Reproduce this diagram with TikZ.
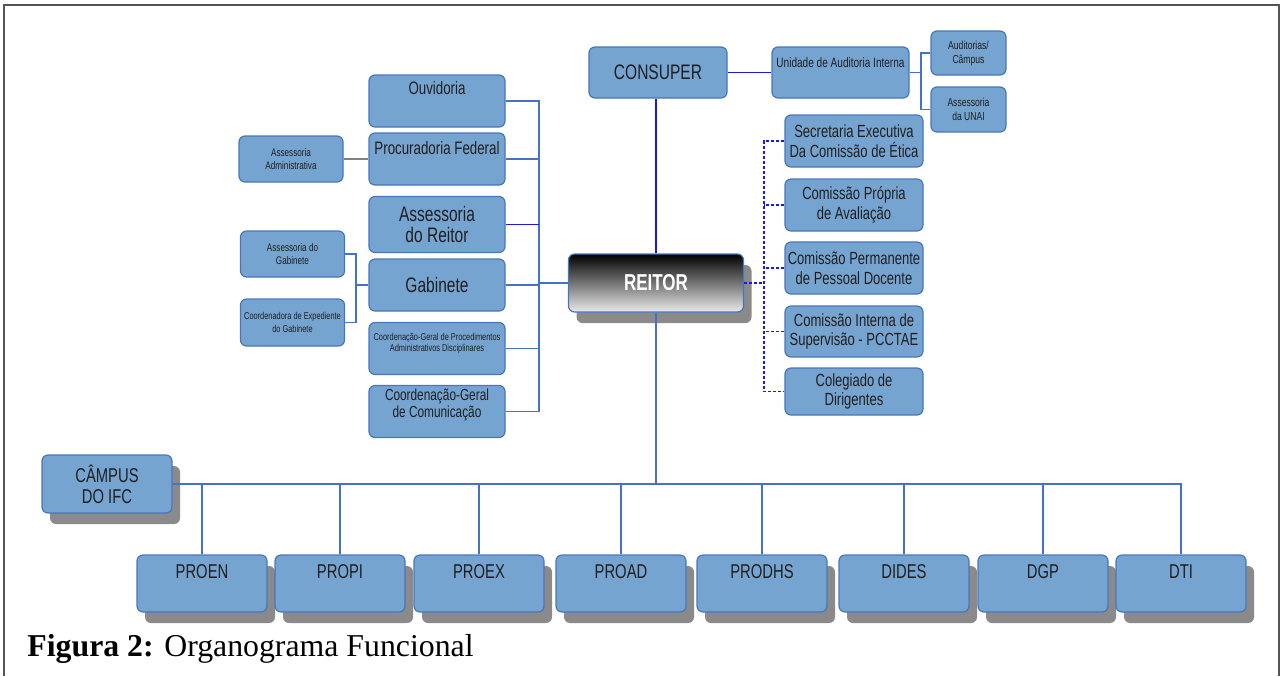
\documentclass[tikz,border=0pt]{standalone}
\usepackage{fontspec}
\setmainfont{Liberation Serif}
\newfontfamily\narrowfont[FakeStretch=0.74]{Liberation Sans}
\usepackage{xcolor}
\usepackage{tikz}
\usetikzlibrary{positioning,shadows}

\definecolor{boxfill}{RGB}{118,164,209}
\definecolor{boxline}{RGB}{72,118,190}
\definecolor{linkblue}{RGB}{68,114,196}
\definecolor{deepblue}{RGB}{25,25,225}
\definecolor{shadowgray}{RGB}{138,138,138}
\definecolor{framegray}{RGB}{85,85,85}

\newcommand{\setfs}[2]{\fontsize{#1}{#2}\selectfont}

\begin{document}
\begin{tikzpicture}[
    x=0.5pt, y=-0.5pt,
    unit/.style={rectangle, rounded corners=3pt, draw=boxline, fill=boxfill, line width=0.6pt, inner sep=1pt, align=center, text=black!88},
    leftunit/.style={unit, minimum width=68pt, minimum height=26pt},
    smallunit/.style={unit, minimum width=52pt, minimum height=23pt, font=\narrowfont\setfs{5.5}{6.5}},
    rightunit/.style={unit, minimum width=69pt, minimum height=26pt, font=\narrowfont\setfs{8.8}{9.8}},
    prounit/.style={unit, shadowed, minimum width=65pt, minimum height=28.5pt, lift=11.7pt, font=\narrowfont\setfs{10}{11}},
    shadowed/.style={drop shadow={shadow xshift=4pt, shadow yshift=-5.5pt, fill=shadowgray, opacity=1}},
    lift/.style={text depth=#1},
    link/.style={draw=linkblue, line width=0.7pt},
    dashlink/.style={draw=deepblue, line width=0.6pt, dash pattern=on 1.5pt off 1pt}
]
    \useasboundingbox (0,0) rectangle (1281,676);

    % Reitoria
    \node[unit, shadowed, minimum width=87.5pt, minimum height=29pt, top color=black, bottom color=white!92!black,
          font=\narrowfont\bfseries\setfs{11.5}{12}, text=white] (reitor) at (656,283) {REITOR};

    % Conselho superior e auditoria
    \node[unit, minimum width=69pt, minimum height=25.5pt, font=\narrowfont\setfs{10.5}{11}] (consuper) at (658,72.5) {CONSUPER};
    \node[unit, minimum width=68.5pt, minimum height=25.5pt, lift=10pt, font=\narrowfont\setfs{6.8}{8}] (audint) at (840.5,72.5) {Unidade de Auditoria Interna};
    \node[unit, minimum width=37.5pt, minimum height=22pt, font=\narrowfont\setfs{5.8}{7}] (audcampus) at (968.5,53) {Auditorias/\\Câmpus};
    \node[unit, minimum width=37.5pt, minimum height=22.5pt, font=\narrowfont\setfs{5.8}{7}] (unai) at (968.5,109.5) {Assessoria\\da UNAI};

    % Orgaos de assessoramento (esquerda)
    \node[leftunit, lift=12.6pt, font=\narrowfont\setfs{9}{10}] (ouvid) at (437,101) {Ouvidoria};
    \node[leftunit, lift=10.6pt, font=\narrowfont\setfs{9}{10}] (procur) at (437,159) {Procuradoria Federal};
    \node[leftunit, minimum height=28pt, font=\narrowfont\setfs{10.5}{10.5}] (assreitor) at (437,224.5) {Assessoria\\do Reitor};
    \node[leftunit, font=\narrowfont\setfs{10.5}{11}] (gabinete) at (437,285) {Gabinete};
    \node[leftunit, lift=5.7pt, font=\narrowfont\setfs{5}{5.5}] (cgpad) at (437,348.5) {Coordenação-Geral de Procedimentos\\Administrativos Disciplinares};
    \node[leftunit, lift=8.3pt, font=\narrowfont\setfs{8}{8.5}] (cgcom) at (437,411.5) {Coordenação-Geral\\de Comunicação};

    \node[smallunit] (assadm) at (291,159) {Assessoria\\Administrativa};
    \node[smallunit] (assgab) at (292.5,254) {Assessoria do\\Gabinete};
    \node[smallunit, minimum height=23.5pt, font=\narrowfont\setfs{5}{6.5}] (coordexp) at (292.5,322.5) {Coordenadora de Expediente\\do Gabinete};

    % Comissoes (direita)
    \node[rightunit] (secex) at (854,141) {Secretaria Executiva\\Da Comissão de Ética};
    \node[rightunit] (cpa) at (854,205) {Comissão Própria\\de Avaliação};
    \node[rightunit] (cppd) at (854,268) {Comissão Permanente\\de Pessoal Docente};
    \node[rightunit, minimum height=25.5pt] (cis) at (854,331.5) {Comissão Interna de\\Supervisão - PCCTAE};
    \node[rightunit, minimum height=23.5pt] (coleg) at (854,391.5) {Colegiado de\\Dirigentes};

    % Campus e pro-reitorias
    \node[unit, shadowed, minimum width=65pt, minimum height=29pt, font=\narrowfont\setfs{10}{10.5}] (campus) at (107,484) {CÂMPUS\\DO IFC};
    \foreach \cx/\nm/\txt in {202/proen/PROEN, 340/propi/PROPI, 479/proex/PROEX, 621/proad/PROAD,
                              762/prodhs/PRODHS, 904/dides/DIDES, 1043/dgp/DGP, 1181/dti/DTI}
        \node[prounit] (\nm) at (\cx,583.5) {\txt};

    % Ligacoes
    \coordinate (lbus) at (539,283);
    \draw[link] (ouvid.east) -| (cgcom.east -| lbus) -- (cgcom.east);
    \foreach \n in {procur,gabinete,cgpad}
        \draw[link] (\n.east) -- (\n.east -| lbus);
    \draw[link, draw=deepblue] (assreitor.east) -- (assreitor.east -| lbus);
    \draw[link] (lbus) -- (reitor.west);

    \coordinate (gbus) at (356,285);
    \draw[link] (assgab.east) -| (gbus) |- (coordexp.east);
    \draw[link] (gbus) -- (gabinete.west);
    \draw[draw=gray, line width=1pt] (assadm.east) -- (procur.west);

    \draw[link, draw=deepblue] (consuper.east) -- (audint.west);
    \draw[link, draw=deepblue] (reitor.north) -- (reitor.north |- consuper.south);
    \coordinate (abus) at (921,72.5);
    \draw[link] (audint.east) -- (abus);
    \draw[link] (audcampus.west) -| (abus) |- (unai.west);

    \coordinate (rbus) at (764,283);
    \draw[dashlink] (reitor.east) -- (rbus);
    \draw[dashlink] (secex.west) -| (rbus) |- (coleg.west);
    \foreach \n in {cpa,cppd,cis}
        \draw[dashlink] (\n.west) -- (\n.west -| rbus);

    \draw[link] (campus.east) -- (campus.east -| dti.north) -- (dti.north);
    \foreach \n in {proen,propi,proex,proad,prodhs,dides,dgp}
        \draw[link] (\n.north |- campus.east) -- (\n.north);
    \draw[link] (reitor.south) -- (reitor.south |- campus.east);

    % Moldura e legenda
    \draw[framegray, line width=1pt] (4,676) -- (4,4.5) -- (1279,4.5) -- (1279,676);
    \node[anchor=base west, inner sep=0pt, font=\setfs{15.9}{18}] (caption) at (27,656) {\textbf{Figura 2:} Organograma Funcional};
\end{tikzpicture}
\end{document}
